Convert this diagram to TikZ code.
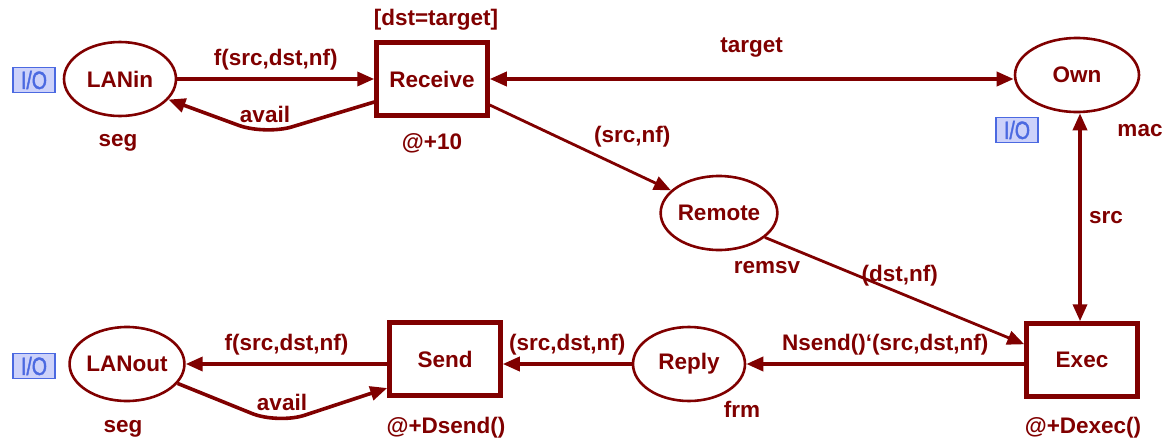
\documentclass[tikz,border=0pt]{standalone}
\usepackage{fontspec}
\setmainfont{Liberation Sans}
\newfontfamily\portfont[FakeStretch=0.78,FakeBold=1.5]{Liberation Sans}
\usetikzlibrary{shapes.geometric,arrows.meta}
\definecolor{netred}{RGB}{128,0,0}
\definecolor{ioblue}{RGB}{75,105,225}
\definecolor{iofill}{RGB}{205,210,250}
\tikzset{
  every node/.style={text=netred, font=\fontsize{22.5}{26}\selectfont\bfseries},
  place/.style={ellipse, draw=netred, line width=2.6pt, minimum width=112pt, minimum height=74pt, inner sep=0pt},
  trans/.style={rectangle, draw=netred, line width=4.5pt, minimum width=111pt, minimum height=73pt, inner sep=0pt},
  iobox/.style={rectangle, draw=ioblue, fill=iofill, line width=1.6pt, text=ioblue,
    font=\portfont\fontsize{25}{25}\selectfont, minimum width=42pt, minimum height=25pt, inner sep=0pt},
  flow/.style={draw=netred, line width=3.6pt, -{Triangle[length=17pt,width=14pt]}},
  thinflow/.style={draw=netred, line width=2.8pt, -{Triangle[length=17pt,width=14pt]}},
  bothflow/.style={draw=netred, line width=3.6pt, {Triangle[length=17pt,width=14pt]}-{Triangle[length=17pt,width=14pt]}},
}
\begin{document}
\begin{tikzpicture}[x=1pt,y=-1pt]
\useasboundingbox (0,0) rectangle (1175,442);

% places
\node[place] (lanin) at (120,79) {LANin};
\node[place, minimum width=124pt] (own) at (1077,75) {Own};
\node[place] (remote) at (719,213) {Remote};
\node[place] (reply) at (689,364) {Reply};
\node[place] (lanout) at (127,364) {LANout};

% transitions
\node[trans] (receive) at (432,79) {Receive};
\node[trans] (exec) at (1082,360) {Exec};
\node[trans] (send) at (445,359) {Send};

% port markers
\node[iobox] (io1) at (34,80) {I/O};
\node[iobox] (io2) at (1017,130) {I/O};
\node[iobox] (io3) at (34,366) {I/O};

% place types and transition inscriptions
\node (seg1) at (118,143) {seg};
\node (mac) at (1140,131) {mac};
\node (remsv) at (767,268) {remsv};
\node (frm) at (742,409) {frm};
\node (seg2) at (123,429) {seg};
\node (guard) at (436,20) {[dst=target]};
\node (t1) at (432,143) {@+10};
\node (t2) at (1083,428) {@+Dexec()};
\node (t3) at (446,428) {@+Dsend()};

% arc inscriptions of the two return arcs
\node (availin) at (265,114) {avail};
\node (availout) at (282,402) {avail};

% arcs
\draw[flow] (lanin.east |- receive.west) -- (receive.west)
  node[midway, above=4pt] {f(src,dst,nf)};
\draw[flow, rounded corners=28pt] ([yshift=-23pt]receive.west) -- (265,135) -- (lanin.-23);
\draw[bothflow] (receive.east) -- (receive.east -| own.west)
  node[midway, above=17pt] {target};
\draw[thinflow] ([yshift=-26pt]receive.east) -- (remote)
  node[pos=0.55, above right=0pt] {(src,nf)};
\draw[thinflow] (remote.-28) -- ([yshift=-23pt]exec.north west)
  node[pos=0.52, above=2pt] {(dst,nf)};
\draw[bothflow] (own.south -| 1080,0) -- (exec.north -| 1080,0)
  node[midway, right=4pt] {src};
\draw[flow] (exec.west |- reply.east) -- (reply.east)
  node[midway, above=4pt] {Nsend()‘(src,dst,nf)};
\draw[flow] (reply.west) -- (reply.west -| send.east)
  node[midway, above=4pt] {(src,dst,nf)};
\draw[flow] (send.west |- lanout.east) -- (lanout.east)
  node[midway, above=4pt] {f(src,dst,nf)};
\draw[flow, rounded corners=28pt] (lanout.-21) -- (278,424) -- ([yshift=-29pt]send.west);
\end{tikzpicture}
\end{document}
